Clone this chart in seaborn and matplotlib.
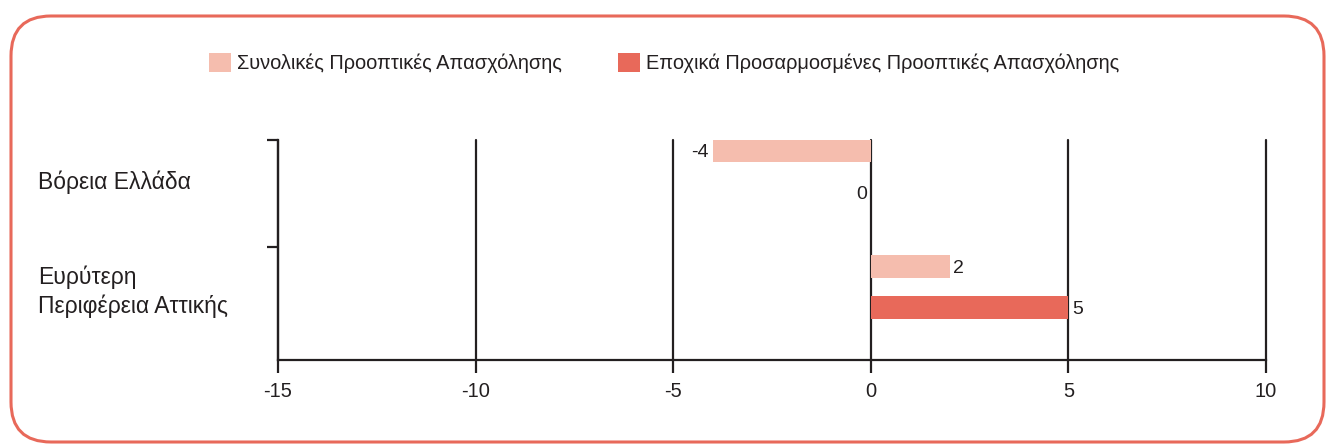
import matplotlib
matplotlib.use("Agg")
import matplotlib.pyplot as plt
import matplotlib.patches as mpatches
import matplotlib.transforms as mtransforms
import seaborn as sns
import pandas as pd

regions = ["Βόρεια Ελλάδα", "Ευρύτερη\nΠεριφέρεια Αττικής"]
series_names = ["Συνολικές Προοπτικές Απασχόλησης",
                "Εποχικά Προσαρμοσμένες Προοπτικές Απασχόλησης"]
overall = [-4, 2]
seasonal = [0, 5]
x_ticks = [-15, -10, -5, 0, 5, 10]

colors = ["#F5BDAE", "#E8695A"]
grid_color = "#231F20"
text_color = "#231F20"

rows = []
for s, vals in zip(series_names, [overall, seasonal]):
    for r, v in zip(regions, vals):
        rows.append({"region": r, "series": s, "value": v})
df = pd.DataFrame(rows)

sns.set_theme(style="white")
plt.rcParams["font.family"] = ["Liberation Sans", "DejaVu Sans"]

W, H = 1329, 444
fig = plt.figure(figsize=(W / 100, H / 100), dpi=100)
ax = fig.add_axes([278 / W, 1 - 360 / H, (1266 - 278) / W, 220 / H])

sns.barplot(data=df, y="region", x="value", hue="series", orient="h",
            palette=colors, width=0.72, ax=ax, legend=False,
            saturation=1, zorder=3)

# slim the bars keeping their centres
for p in ax.patches:
    c = p.get_y() + p.get_height() / 2
    p.set_height(0.2)
    p.set_y(c - 0.1)
    p.set_linewidth(0)

ax.set_xlim(-15, 10)
ax.set_ylim(1.632, -0.273)
ax.set_xticks(x_ticks)
ax.set_xticklabels([str(t) for t in x_ticks], fontsize=14.5, color=text_color)
ax.xaxis.grid(True, color=grid_color, linewidth=1.6, zorder=1)
for gl in ax.get_xgridlines():
    gl.set_clip_on(False)
ax.set_axisbelow(True)
ax.tick_params(axis="x", direction="out", length=9, width=1.6,
               color=grid_color, pad=7, bottom=True)

# y: boundary ticks without labels, labels at minor ticks
ax.set_yticks([-0.273, 0.654])
ax.set_yticklabels(["", ""])
ax.tick_params(axis="y", which="major", direction="out", length=8,
               width=1.6, color=grid_color, left=True)
ax.set_yticks([0.07, 0.995], minor=True)
ax.set_yticklabels(regions, minor=True, fontsize=16.5, color=text_color,
                   ha="left", linespacing=1.3)
ax.tick_params(axis="y", which="minor", length=0, pad=(278 - 38) * 0.72)

ax.set_xlabel("")
ax.set_ylabel("")
for side in ["top", "right"]:
    ax.spines[side].set_visible(False)
ax.spines["left"].set_color(grid_color)
ax.spines["left"].set_linewidth(1.6)
ax.spines["bottom"].set_color(grid_color)
ax.spines["bottom"].set_linewidth(1.6)

# value labels
for cont, vals in zip(ax.containers, [overall, seasonal]):
    for patch, v in zip(cont.patches, vals):
        yc = patch.get_y() + patch.get_height() / 2
        if v > 0:
            ax.annotate(str(v), (v, yc), xytext=(2.5, 0), textcoords="offset points",
                        ha="left", va="center_baseline", fontsize=14, color=text_color)
        else:
            ax.annotate(str(v), (v, yc), xytext=(-3, 0), textcoords="offset points",
                        ha="right", va="center_baseline", fontsize=14, color=text_color)

handles = [mpatches.Patch(facecolor=c, edgecolor="none", label=n)
           for c, n in zip(colors, series_names)]
fig.legend(handles=handles, loc="center", bbox_to_anchor=(0.4995, 1 - 63 / H),
           ncol=2, frameon=False, fontsize=14.4, handlelength=1.1,
           handleheight=1.1, handletextpad=0.3, columnspacing=2.8,
           labelcolor=text_color)

border = mpatches.FancyBboxPatch((11, 2), 1313, 426,
                                 boxstyle="round,pad=0,rounding_size=40",
                                 transform=mtransforms.IdentityTransform(),
                                 facecolor="none", edgecolor="#E8695A",
                                 linewidth=2.2)
fig.add_artist(border)

fig.savefig("out.png", dpi=100)
